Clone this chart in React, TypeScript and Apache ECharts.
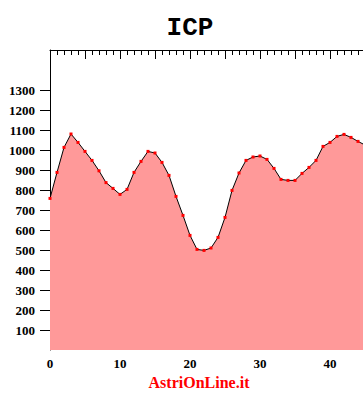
import React, { useEffect, useRef } from "react";
import * as echarts from "echarts";

const titleText = "ICP";
const creditText = "AstriOnLine.it";
const xValues = [
  0, 1, 2, 3, 4, 5, 6, 7, 8, 9, 10, 11, 12, 13, 14, 15, 16, 17, 18, 19, 20, 21, 22,
  23, 24, 25, 26, 27, 28, 29, 30, 31, 32, 33, 34, 35, 36, 37, 38, 39, 40, 41, 42, 43,
  44, 45,
];
const icpValues = [
  758, 888, 1013, 1080, 1038, 993, 948, 896, 837, 808, 778, 803, 888, 943, 993, 985,
  938, 873, 768, 673, 573, 503, 498, 510, 563, 663, 798, 885, 948, 965, 970, 953,
  908, 853, 848, 848, 883, 913, 948, 1018, 1038, 1068, 1078, 1063, 1043, 1025,
];
const yTickValues = [100, 200, 300, 400, 500, 600, 700, 800, 900, 1000, 1100, 1200, 1300];

export default function App() {
  const ref = useRef<HTMLDivElement>(null);
  useEffect(() => {
    document.body.style.margin = "0";
    if (!ref.current) return;
    const chart = echarts.init(ref.current, null, { renderer: "svg" });
    const labelFont = {
      color: "#000",
      fontFamily: "Liberation Serif",
      fontWeight: "bold" as const,
      fontSize: 13,
    };
    chart.setOption({
      animation: false,
      backgroundColor: "#fff",
      grid: { left: 50, top: 50, width: 350, height: 300, outerBoundsMode: "none", containLabel: false },
      title: {
        text: titleText,
        left: 185,
        top: 10,
        textAlign: "center",
        textStyle: {
          fontFamily: "Liberation Mono",
          fontWeight: "bold",
          fontSize: 26,
          color: "#000",
        },
      },
      graphic: [
        {
          type: "text",
          x: 199,
          y: 382,
          style: {
            text: creditText,
            fill: "#ff0000",
            font: "bold 16px 'Liberation Serif'",
            textAlign: "center",
            textVerticalAlign: "middle",
          },
        },
      ],
      xAxis: [
        {
          type: "value",
          position: "bottom",
          min: 0,
          max: 50,
          interval: 10,
          axisLine: { show: false },
          axisTick: { show: true, inside: true, length: 20, lineStyle: { color: "#000" } },
          minorTick: { show: false },
          splitLine: { show: false },
          axisLabel: { ...labelFont, margin: 7, showMaxLabel: false, formatter: (v: number) => String(v) },
        },
        {
          type: "value",
          position: "top",
          min: 0,
          max: 50,
          interval: 5,
          axisLine: { show: true, lineStyle: { color: "#000", width: 1 } },
          axisTick: { show: true, inside: true, length: 9, lineStyle: { color: "#000" } },
          minorTick: { show: true, splitNumber: 5, length: 5, lineStyle: { color: "#000" } },
          splitLine: { show: false },
          axisLabel: { show: false },
        },
        {
          type: "value",
          position: "bottom",
          min: 0,
          max: 50,
          interval: 5,
          axisLine: { show: false },
          axisTick: { show: true, inside: true, length: 10, lineStyle: { color: "#000" } },
          minorTick: { show: true, splitNumber: 5, length: 5, lineStyle: { color: "#000" } },
          splitLine: { show: false },
          axisLabel: { show: false },
        },
      ],
      yAxis: [
        {
          type: "value",
          min: 0,
          max: 1500,
          interval: 100,
          axisLine: { show: true, lineStyle: { color: "#000", width: 1 } },
          axisTick: {
            show: true,
            inside: false,
            length: 10,
            customValues: yTickValues,
            lineStyle: { color: "#000" },
          },
          splitLine: { show: false },
          axisLabel: { ...labelFont, margin: 15, customValues: yTickValues, formatter: (v: number) => String(v) },
        },
      ],
      series: [
        {
          type: "line",
          xAxisIndex: 0,
          yAxisIndex: 0,
          data: xValues.map((x, i) => [x, icpValues[i]]),
          symbol: "rect",
          symbolSize: 3,
          showSymbol: true,
          itemStyle: { color: "#ff0000" },
          lineStyle: { color: "#000", width: 1 },
          areaStyle: { color: "#ff9999", opacity: 1 },
          z: 1,
        },
      ],
    });
    return () => chart.dispose();
  }, []);
  return <div ref={ref} style={{ width: 363, height: 400 }} />;
}
